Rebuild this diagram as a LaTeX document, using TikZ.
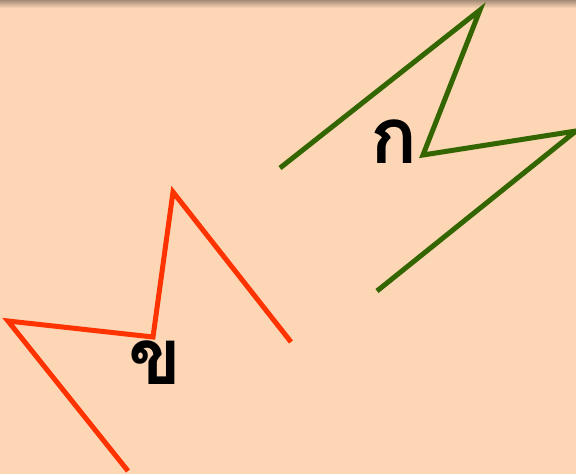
\documentclass[tikz,border=0pt]{standalone}
\usepackage{fontspec}
\newfontfamily\thaifont[Script=Thai]{Loma}
\definecolor{bg}{HTML}{FCD6B5}
\definecolor{grn}{HTML}{336600}
\definecolor{red1}{HTML}{FF3300}
\begin{document}
\begin{tikzpicture}[x=1pt,y=-1pt,
  zig/.style={line width=5pt,line join=miter},
  lbl/.style={font=\thaifont\bfseries\fontsize{78}{78}\selectfont,inner sep=0pt,text=black}]
\useasboundingbox (0,0) rectangle (576,474);
\fill[bg] (0,0) rectangle (576,474);
\shade[top color=bg!50!black!70!bg, bottom color=bg] (0,0) rectangle (576,8);
\coordinate (g1) at (280,168);
\coordinate (g2) at (480,10);
\coordinate (g3) at (423,155);
\coordinate (g4) at (576,131);
\coordinate (g5) at (377,291);
\draw[zig,grn] (g1) -- (g2) -- (g3) -- (g4) -- (g5);
\coordinate (r1) at (291,342);
\coordinate (r2) at (173,192);
\coordinate (r3) at (153,337);
\coordinate (r4) at (8,321);
\coordinate (r5) at (128,471);
\draw[zig,red1] (r1) -- (r2) -- (r3) -- (r4) -- (r5);
\node[lbl,anchor=base] (ka) at (394,163) {ก};
\node[lbl,anchor=base] (kho) at (155,384) {ข};
\end{tikzpicture}
\end{document}
